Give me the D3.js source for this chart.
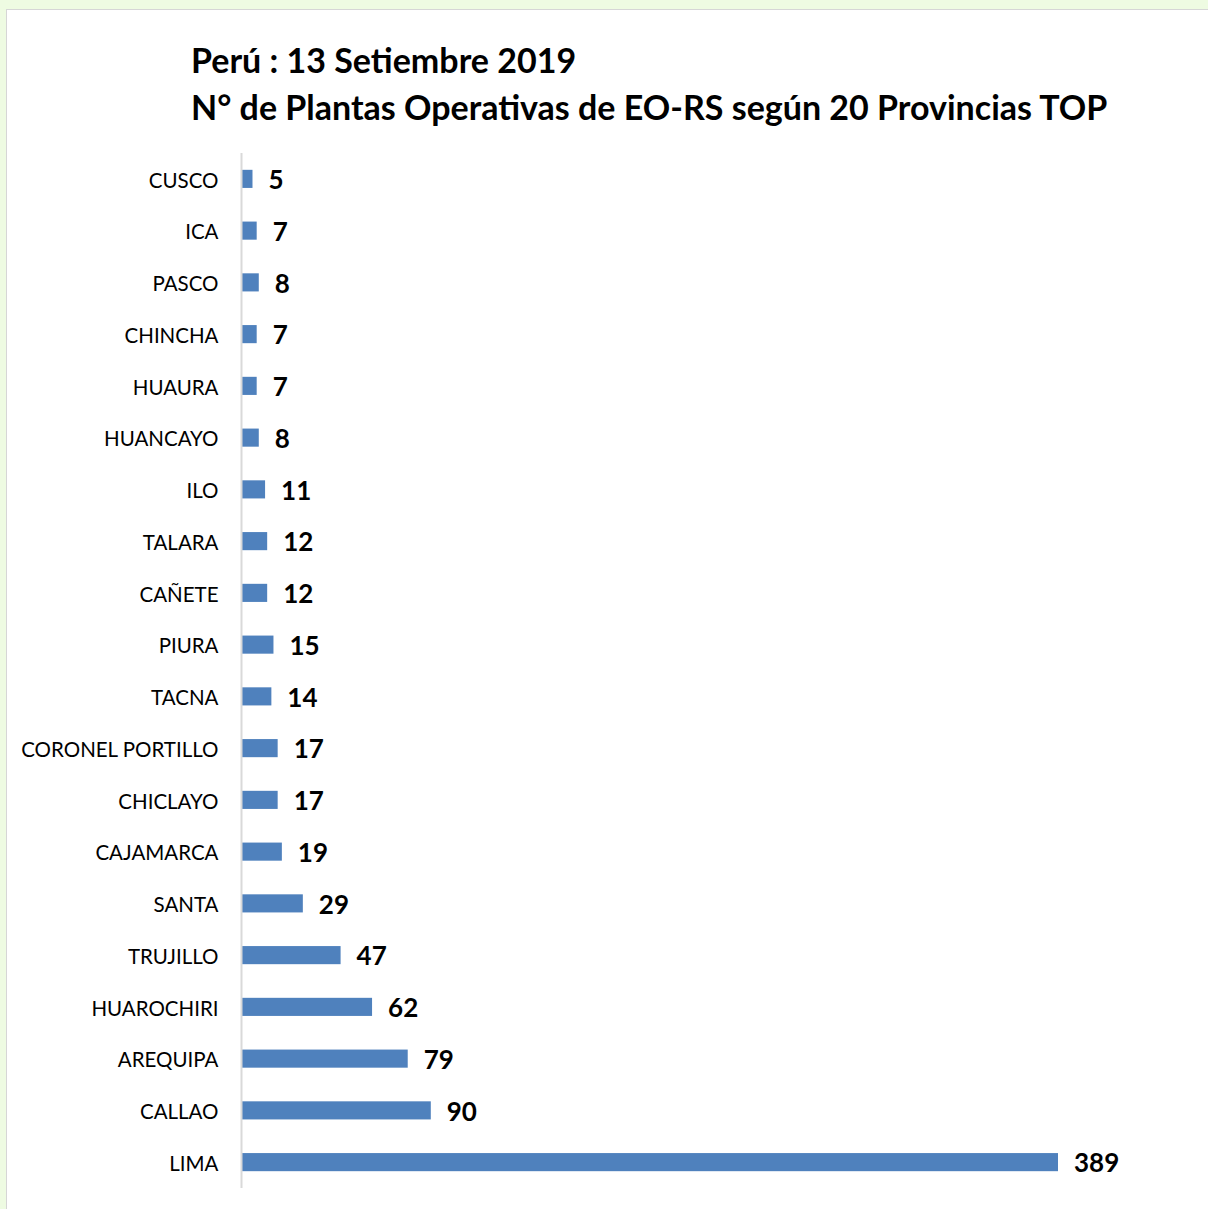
<!DOCTYPE html>
<html>
<head>
<meta charset="utf-8">
<script src="https://cdn.jsdelivr.net/npm/d3@7"></script>
<style>
  html, body { margin: 0; padding: 0; background: #eefbe2; }
  svg { display: block; }
</style>
</head>
<body>
<svg id="chart" width="1208" height="1209"></svg>
<script>
var provincias = ["CUSCO","ICA","PASCO","CHINCHA","HUAURA","HUANCAYO","ILO","TALARA","CAÑETE","PIURA",
  "TACNA","CORONEL PORTILLO","CHICLAYO","CAJAMARCA","SANTA","TRUJILLO","HUAROCHIRI","AREQUIPA","CALLAO","LIMA"];
var plantas = [5,7,8,7,7,8,11,12,12,15,14,17,17,19,29,47,62,79,90,389];
var titulo = ["Perú : 13 Setiembre 2019", "N° de Plantas Operativas de EO-RS según 20 Provincias TOP"];

var barColor = "#4f81bd";
var axisColor = "#d9d9d9";
var FONT = "Lato, 'Open Sans', sans-serif";

var svg = d3.select("#chart");

// white chart panel over the green page
svg.append("rect")
  .attr("x", 6.5).attr("y", 9.5)
  .attr("width", 1210).attr("height", 1210)
  .attr("fill", "#ffffff")
  .attr("stroke", "#d6d6d6");

// title
svg.selectAll("text.title").data(titulo).enter().append("text")
  .attr("class", "title")
  .attr("x", 191)
  .attr("y", function(d,i){ return 73 + i*47; })
  .attr("font-family", FONT)
  .attr("font-weight", "bold")
  .attr("font-size", 34)
  .attr("fill", "#000")
  .text(function(d){ return d; });

var data = provincias.map(function(p,i){ return {name:p, value:plantas[i]}; });

var x = d3.scaleLinear().domain([0, 389]).range([242, 1058]);
var y = d3.scaleBand().domain(provincias).range([153, 1188]).paddingInner(0.65).paddingOuter(0.325);

svg.selectAll("rect.bar").data(data).enter().append("rect")
  .attr("class", "bar")
  .attr("x", x(0))
  .attr("y", function(d){ return y(d.name); })
  .attr("width", function(d){ return x(d.value) - x(0); })
  .attr("height", y.bandwidth())
  .attr("fill", barColor);

// value labels
svg.selectAll("text.val").data(data).enter().append("text")
  .attr("class", "val")
  .attr("x", function(d){ return x(d.value) + 16; })
  .attr("y", function(d){ return y(d.name) + y.bandwidth()/2 + 1; })
  .attr("dy", "0.36em")
  .attr("font-family", FONT)
  .attr("font-weight", "bold")
  .attr("font-size", 26)
  .attr("fill", "#000")
  .text(function(d){ return d.value; });

// category axis
var yAxis = svg.append("g")
  .attr("transform", "translate(241.5,0)")
  .call(d3.axisLeft(y).tickSize(0).tickPadding(23));
yAxis.select(".domain").attr("stroke", axisColor).attr("stroke-width", 2)
  .attr("d", "M0,153V1188");
yAxis.selectAll("text")
  .attr("font-family", FONT)
  .attr("font-size", 20.5)
  .attr("fill", "#000")
  .attr("dy", "0.42em");
</script>
</body>
</html>
